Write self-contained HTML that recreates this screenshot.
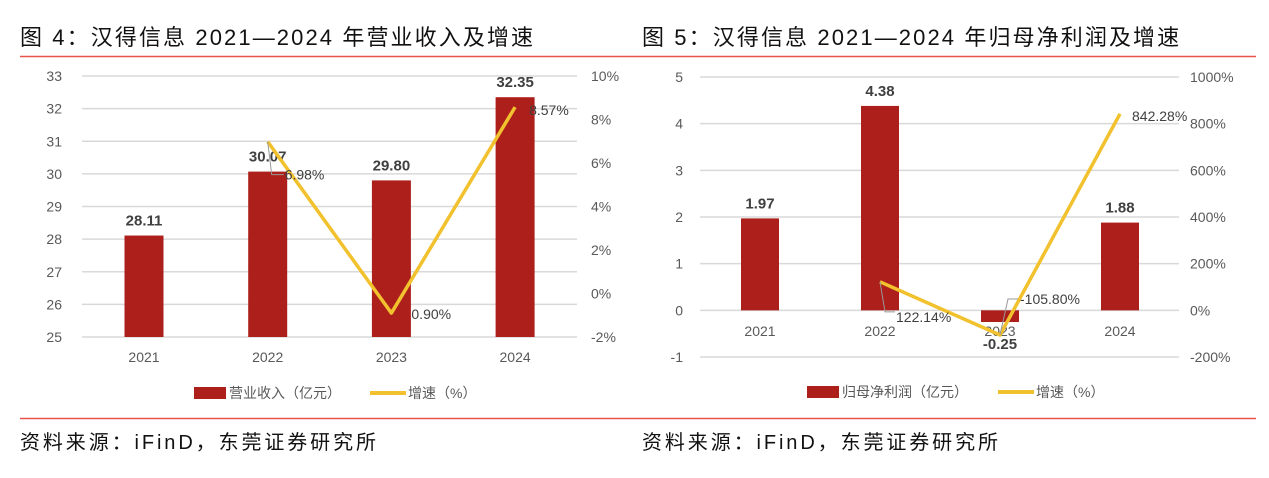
<!DOCTYPE html>
<html><head><meta charset="utf-8"><style>
body{margin:0;background:#fff;width:1269px;height:473px;overflow:hidden}
svg text{font-family:"Liberation Sans","Noto Sans CJK SC",sans-serif}
.t{font-size:22px;fill:#111;letter-spacing:2.1px;font-family:"Liberation Sans","Noto Sans CJK SC",sans-serif}
.src{font-size:20px;fill:#111;letter-spacing:2.9px}
.tk{font-size:14px;fill:#595959}
.bl{font-size:15px;font-weight:bold;fill:#404040}
.pl{font-size:14px;fill:#404040}
</style></head><body>
<svg id="s" width="1269" height="473">
<text class="t" x="20" y="45">图 4：汉得信息 2021—2024 年营业收入及增速</text>
<text class="t" x="642" y="45">图 5：汉得信息 2021—2024 年归母净利润及增速</text>
<line x1="20" y1="56.5" x2="1256" y2="56.5" stroke="#e8534a" stroke-width="1.5"/>
<line x1="20" y1="418.5" x2="1256" y2="418.5" stroke="#e8534a" stroke-width="1.5"/>
<text class="src" x="20" y="449">资料来源：iFinD，东莞证券研究所</text>
<text class="src" x="642" y="449">资料来源：iFinD，东莞证券研究所</text>
<g id="c1"></g><g id="c2"></g>
</svg>
<script>
const cats=["2021","2022","2023","2024"];
const revenue=[28.11,30.07,29.80,32.35];
const revGrowth=[null,6.98,-0.90,8.57];
const revGrowthLabels=["","6.98%","0.90%","8.57%"];
const revTicks=[25,26,27,28,29,30,31,32,33];
const revPctTicks=[-2,0,2,4,6,8,10];
const profit=[1.97,4.38,-0.25,1.88];
const profGrowth=[null,122.14,-105.80,842.28];
const profGrowthLabels=["","122.14%","-105.80%","842.28%"];
const profTicks=[-1,0,1,2,3,4,5];
const profPctTicks=[-200,0,200,400,600,800,1000];

const NS="http://www.w3.org/2000/svg";
function mk(p,tag,a,txt){const e=document.createElementNS(NS,tag);for(const k in a)e.setAttribute(k,a[k]);if(txt!=null)e.textContent=txt;p.appendChild(e);return e;}

function chart(g,o){
  const yL=v=>o.y0+(v-o.lmin)/(o.lmax-o.lmin)*(o.y1-o.y0);
  const yR=v=>o.y0+(v-o.rmin)/(o.rmax-o.rmin)*(o.y1-o.y0);
  const xC=i=>o.xc0+i*o.step;
  o.lt.forEach(t=>{
    const l=mk(g,'line',{x1:o.gx0,x2:o.gx1,y1:yL(t),y2:yL(t),stroke:'#d9d9d9','stroke-width':1.5});
    
    
    const tx=mk(g,'text',{x:o.lx,y:yL(t)+5,'text-anchor':'end',class:'tk'},String(t));
    
    
  });
  o.rt.forEach(t=>{
    const tx=mk(g,'text',{x:o.rx,y:yR(t)+5,class:'tk'},t+'%');
    
    
  });
  const base=yL(o.base);
  o.vals.forEach((v,i)=>{
    const y=yL(v);
    const r=mk(g,'rect',{x:xC(i)-o.bw/2,y:Math.min(y,base),width:o.bw,height:Math.abs(base-y),fill:'#ad1f1b'});
    
    
    const ly=v>=0?y-10:o.negLabelY;
    const t=mk(g,'text',{x:xC(i),y:ly,'text-anchor':'middle',class:'bl'},v.toFixed(2));
    
    
    const c=mk(g,'text',{x:xC(i),y:o.xly,'text-anchor':'middle',class:'tk'},cats[i]);
    
    
  });
  let d='';
  o.gr.forEach((v,i)=>{if(v==null)return;d+=(d?'L':'M')+xC(i)+','+yR(v);});
  const p=mk(g,'path',{d:d,fill:'none',stroke:'#f2c12e','stroke-width':3.5,'stroke-linejoin':'round'});
  
  
  o.gr.forEach((v,i)=>{if(v==null)return;
    const off=o.lblOff[i];
    if(off.lead){const px=xC(i),py=yR(v);
      const ld=mk(g,'path',{d:`M${px},${py}L${px+off.lead[0]},${py+off.lead[1]}L${px+off.lead[2]},${py+off.lead[1]}`,fill:'none',stroke:'#999','stroke-width':1});
      
      }
    const t=mk(g,'text',{x:xC(i)+off.dx,y:yR(v)+off.dy,class:'pl'},o.gl[i]);
    
    
  });
  const lg=mk(g,'g',{});
  
  
  const s1=mk(lg,'rect',{x:o.lg[0],y:o.ly-6,width:32,height:12,fill:'#ad1f1b'});
  
  
  const t1=mk(lg,'text',{x:o.lg[0]+35,y:o.ly+5,class:'tk',style:'font-size:14px'},o.n1);
  
  
  const s2=mk(lg,'line',{x1:o.lg[1],x2:o.lg[1]+36,y1:o.ly,y2:o.ly,stroke:'#f2c12e','stroke-width':4});
  
  
  const t2=mk(lg,'text',{x:o.lg[1]+38,y:o.ly+5,class:'tk',style:'font-size:14px'},'增速（%）');
  
  
}
chart(document.getElementById('c1'),{lmin:33,lmax:25,rmin:10,rmax:-2,y0:76,y1:337,lt:revTicks,rt:revPctTicks,
  gx0:82,gx1:577,lx:62,rx:591,xc0:144,step:123.7,bw:39,base:25,vals:revenue,gr:revGrowth,gl:revGrowthLabels,
  negLabelY:0,xly:362,
  lblOff:[{},{dx:17,dy:38,lead:[4,33,16]},{dx:20,dy:6},{dx:14,dy:8}],
  lg:[194,370],ly:393,n1:'营业收入（亿元）'});
document.getElementById('c1');
chart(document.getElementById('c2'),{lmin:5,lmax:-1,rmin:1000,rmax:-200,y0:77,y1:357,lt:profTicks,rt:profPctTicks,
  gx0:700,gx1:1179,lx:683,rx:1190,xc0:760,step:120,bw:38,base:0,vals:profit,gr:profGrowth,gl:profGrowthLabels,
  negLabelY:349,xly:336,
  lblOff:[{},{dx:16,dy:40,lead:[5,30,15]},{dx:20,dy:-31,lead:[8,-36,18]},{dx:12,dy:7}],
  lg:[807,998],ly:392,n1:'归母净利润（亿元）'});
document.getElementById('c2');
</script>
</body></html>
